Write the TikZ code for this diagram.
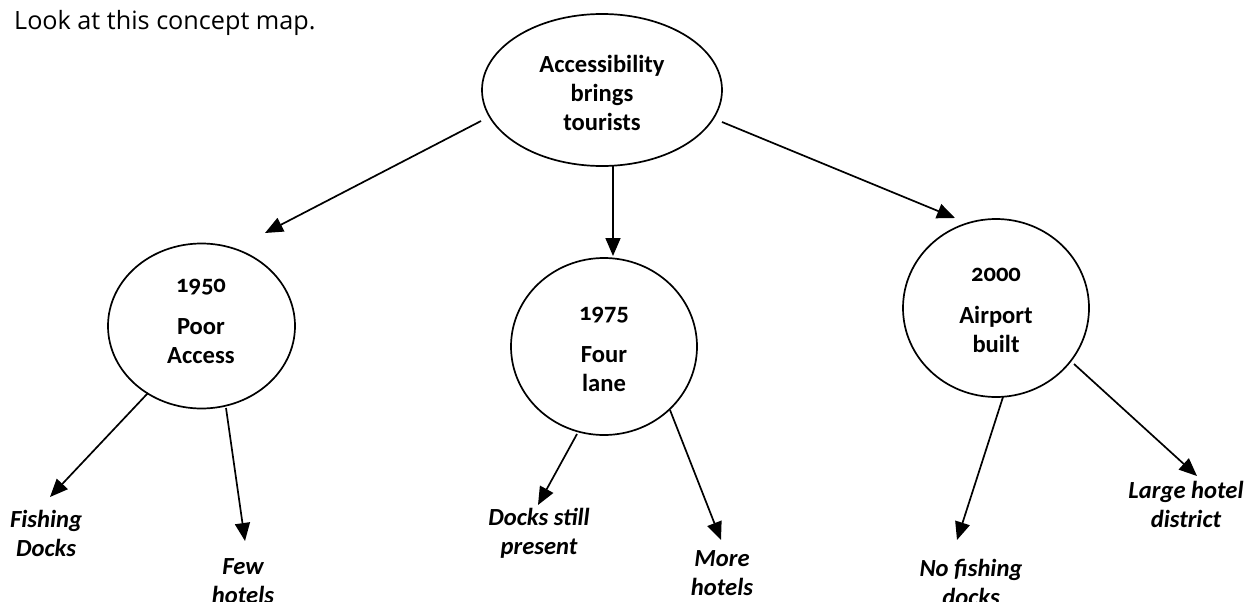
\documentclass[tikz,border=0pt]{standalone}
\usepackage{fontspec}
\setmainfont{Carlito}[Numbers=OldStyle]
\newfontfamily\headfont{Open Sans}
\usetikzlibrary{arrows.meta,shapes.geometric}
\begin{document}
\begin{tikzpicture}[x=1pt,y=-1pt,
  bubble/.style={draw, ellipse, line width=1.7pt, inner sep=0pt},
  conn/.style={line width=1.7pt, -{Triangle[length=18pt,width=15pt]}},
  ctext/.style={font=\fontsize{24.6}{29}\selectfont\bfseries, align=center, inner sep=0pt},
  lbl/.style={font=\fontsize{24.6}{29}\selectfont\bfseries\itshape, align=center, inner sep=0pt}]
\useasboundingbox (0,0) rectangle (1245,602);
\fill[white] (0,0) rectangle (1245,602);

\node[font=\fontsize{25.2}{30}\selectfont\headfont, anchor=base west, inner sep=0pt] (head) at (14,30) {Look at this concept map.};

\node[bubble, minimum width=240pt, minimum height=152pt] (top) at (602,90) {};
\node[bubble, minimum width=187pt, minimum height=165pt] (c1950) at (201.5,326) {};
\node[bubble, minimum width=186pt, minimum height=177pt] (c1975) at (604,346.5) {};
\node[bubble, minimum width=186pt, minimum height=178pt] (c2000) at (996,308) {};

\node[ctext] (ttop) at (602,93) {Accessibility\\brings\\tourists};
\node[ctext] (t1950) at (201,321) {1950\\[13pt]Poor\\Access};
\node[ctext] (t1975) at (604,349) {1975\\[13pt]Four\\lane};
\node[ctext] (t2000) at (996,310) {2000\\[13pt]Airport\\built};

\node[lbl] (fish) at (46,533) {Fishing\\Docks};
\node[lbl] (few) at (243,581) {Few\\hotels};
\node[lbl] (still) at (539,533) {Docks still\\present};
\node[lbl] (more) at (722,573) {More\\hotels};
\node[lbl] (large) at (1186,504) {Large hotel\\district};
\node[lbl] (nofish) at (971,582) {No fishing\\docks};

\coordinate (s1) at (481,121); \coordinate (e1) at (265,233);
\coordinate (s2) at (613,166); \coordinate (e2) at (613,256);
\coordinate (s3) at (722,122); \coordinate (e3) at (955,218);
\coordinate (s4) at (148,393); \coordinate (e4) at (50,497);
\coordinate (s5) at (226,408); \coordinate (e5) at (245,541);
\coordinate (s6) at (577,434); \coordinate (e6) at (538,505);
\coordinate (s7) at (670,410); \coordinate (e7) at (721,540);
\coordinate (s8) at (1003,397); \coordinate (e8) at (957,540);
\coordinate (s9) at (1074,364); \coordinate (e9) at (1197,476);

\foreach \i in {1,...,9} {\draw[conn] (s\i) -- (e\i);}
\end{tikzpicture}
\end{document}
